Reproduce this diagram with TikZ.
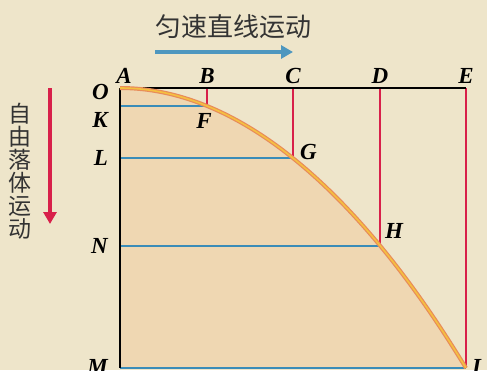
\documentclass[tikz,border=0pt]{standalone}
\usepackage{fontspec}
\setmainfont{Liberation Serif}
\newfontfamily\cjk{Noto Sans CJK SC}
\usepackage{tikz}
\usetikzlibrary{arrows.meta}
\usetikzlibrary{positioning}
\definecolor{paper}{RGB}{238,229,202}
\definecolor{tan}{RGB}{239,215,178}
\definecolor{bluel}{RGB}{58,140,184}
\definecolor{redl}{RGB}{216,32,74}
\definecolor{orangel}{RGB}{232,140,90}
\definecolor{yellowl}{RGB}{245,192,64}
\tikzset{
    pt/.style = {font=\fontsize{23}{23}\selectfont\bfseries\itshape, inner sep=1pt},
    hz/.style = {font=\cjk\fontsize{26}{26}\selectfont, text=black!80},
    vline/.style = {redl, line width=2pt},
    hline/.style = {bluel, line width=2pt},
    bigarrow/.style = {line width=4.5pt, -{Triangle[length=12pt,width=13pt]}}
}

\begin{document}
\begin{tikzpicture} [x=1pt, y=-1pt]
    \useasboundingbox (0,0) rectangle (487,370);
    \fill[paper] (0,0) rectangle (487,370);
    % points on the axes and on the curve
    \coordinate (A) at (120,88);
    \coordinate (M) at (120,368);
    \foreach \n/\t in {B/1,C/2,D/3,E/4} {
    \coordinate (\n) at ({round(120+86.5*\t)},88);
    }
    \foreach \n/\m/\t in {K/F/1,L/G/2,N/H/3} {
    \coordinate (\n) at (120,{round(88+17.5*\t*\t)});
    \coordinate (\m) at ({round(120+86.5*\t)},{round(88+17.5*\t*\t)});
    }
    \coordinate (I) at (466,368);
    \fill[tan] (A) parabola[bend at start] (I) -- (M) -- cycle;
    \foreach \a/\b in {K/F,L/G,N/H,M/I} {
    \draw[hline] (\a)--(\b);
    }
    \foreach \a/\b in {B/F,C/G,D/H,E/I} {
    \draw[vline] (\a)--(\b);
    }
    \draw[black, line width=2pt] (A)--(E);
    \draw[black, line width=2pt] (A)--(M);
    \draw[orangel, line width=4pt] (A) parabola[bend at start] (I);
    \draw[yellowl, line width=1.6pt] (A) parabola[bend at start] (I);
    % labels
    \foreach \n in {B,C,D,E} {
    \node[pt, above=3pt of \n] (l\n) {\n};
    }
    \node[pt, above=3pt of A, xshift=4pt] (lA) {A};
    \node[pt, left=10pt of A, yshift=-4pt] (lO) {O};
    \node[pt, left=11pt of K, yshift=-14pt] (lK) {K};
    \node[pt, left=11pt of L] (lL) {L};
    \node[pt, left=11pt of N] (lN) {N};
    \node[pt, left=11pt of M, yshift=1pt] (lM) {M};
    \node[pt, below=6pt of F, xshift=-3pt] (lF) {F};
    \node[pt, right=6pt of G, yshift=6pt] (lG) {G};
    \node[pt, above right=6pt and 4pt of H] (lH) {H};
    \node[pt, right=5pt of I, yshift=1pt] (lI) {I};
    % the two motions
    \node[hz] (title) at (233,27) {匀速直线运动};
    \coordinate (t0) at (155,52);
    \coordinate (t1) at (293,52);
    \draw[bigarrow, bluel!90] (t0)--(t1);
    \node[hz, font=\cjk\fontsize{23}{23}\selectfont, align=center] (fall) at (20,171) {自\\[0pt]由\\[0pt]落\\[0pt]体\\[0pt]运\\[0pt]动};
    \coordinate (f0) at (50,88);
    \coordinate (f1) at (50,224);
    \draw[bigarrow, redl] (f0)--(f1);
\end{tikzpicture}
\end{document}
